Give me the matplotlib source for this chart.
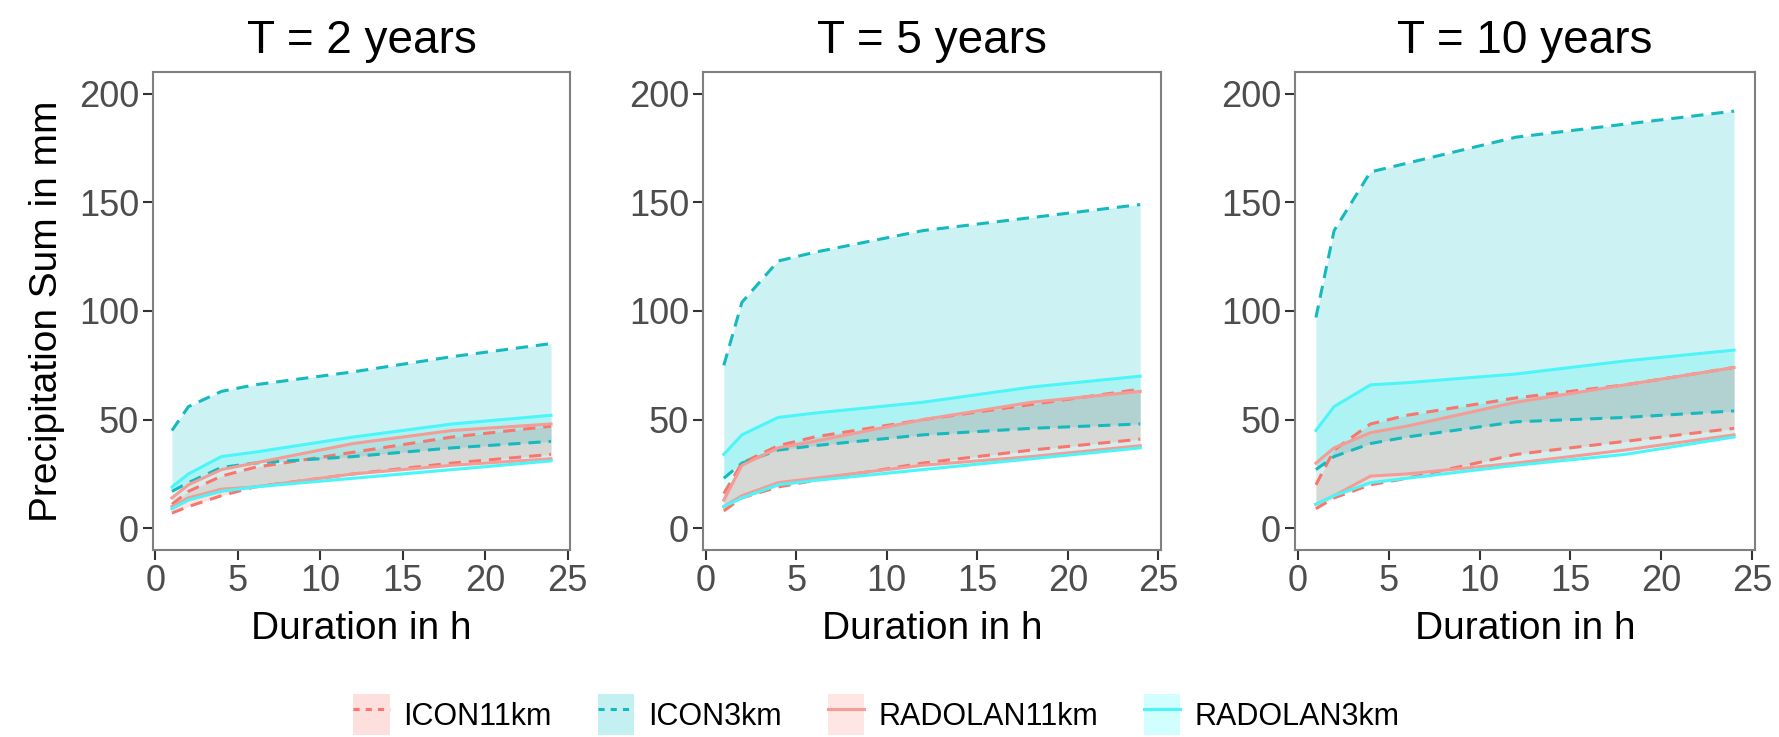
import numpy as np
import matplotlib
matplotlib.use('Agg')
import matplotlib.pyplot as plt
from matplotlib.patches import Patch
from matplotlib.lines import Line2D

plt.rcParams['font.family'] = ['Liberation Sans', 'DejaVu Sans']

durations = [1, 2, 4, 6, 12, 18, 24]
periods = ['T = 2 years', 'T = 5 years', 'T = 10 years']
sources = ['ICON11km', 'ICON3km', 'RADOLAN11km', 'RADOLAN3km']

# lower / upper bounds per return period and source
icon11_lo = [[7, 10, 15, 19, 25, 30, 34],
             [8, 14, 19, 22, 30, 36, 41],
             [9, 14, 20, 23, 34, 40, 46]]
icon11_hi = [[11, 17, 24, 28, 35, 42, 47],
             [16, 30, 38, 42, 50, 57, 64],
             [20, 36, 48, 52, 60, 66, 74]]
icon3_lo = [[17, 21, 28, 30, 33, 37, 40],
            [23, 30, 36, 38, 43, 46, 48],
            [27, 33, 39, 42, 49, 51, 54]]
icon3_hi = [[45, 56, 63, 66, 72, 79, 85],
            [75, 104, 123, 127, 137, 143, 149],
            [97, 137, 164, 168, 180, 186, 192]]
rad11_lo = [[10, 14, 18, 19, 25, 29, 32],
            [10, 15, 21, 23, 29, 33, 38],
            [11, 15, 24, 25, 30, 36, 43]]
rad11_hi = [[14, 20, 27, 30, 39, 45, 48],
            [13, 29, 37, 40, 50, 58, 63],
            [30, 37, 44, 47, 58, 66, 74]]
rad3_lo = [[9, 13, 17, 19, 23, 27, 31],
           [10, 14, 20, 22, 27, 32, 37],
           [11, 15, 21, 23, 29, 34, 42]]
rad3_hi = [[19, 25, 33, 35, 42, 48, 52],
           [34, 43, 51, 53, 58, 65, 70],
           [45, 56, 66, 67, 71, 77, 82]]

lows = [icon11_lo, icon3_lo, rad11_lo, rad3_lo]
highs = [icon11_hi, icon3_hi, rad11_hi, rad3_hi]
line_colors = ['#F8766D', '#16B9BE', '#F49C95', '#4CF5F8']
fill_colors = ['#F8766D', '#00BFC4', '#F8766D', '#00FFFF']
fill_alpha = [0.2, 0.2, 0.15, 0.15]
styles = ['dashed', 'dashed', 'solid', 'solid']

fig = plt.figure(figsize=(17.79, 7.37), dpi=100)
lefts = [153, 703, 1295]
widths = [417, 458, 460]
W, H = 1779, 737
bottom = 1 - 550 / H
height = (550 - 72) / H

for p in range(3):
    ax = fig.add_axes([lefts[p] / W, bottom, widths[p] / W, height])
    for s in range(4):
        ax.fill_between(durations, lows[s][p], highs[s][p],
                        color=fill_colors[s], alpha=fill_alpha[s], lw=0)
    for s in range(4):
        for yy in (lows[s][p], highs[s][p]):
            if styles[s] == 'dashed':
                ax.plot(durations, yy, color=line_colors[s], lw=2.2,
                        dashes=(4, 2.6))
            else:
                ax.plot(durations, yy, color=line_colors[s], lw=2.2)
    ax.set_xlim(-0.15, 25.15)
    ax.set_ylim(-10, 210)
    ax.set_xticks([0, 5, 10, 15, 20, 25])
    ax.set_yticks([0, 50, 100, 150, 200])
    ax.tick_params(labelsize=26, labelcolor='#4D4D4D', color='#333333',
                   length=7, width=1.5, pad=3)
    for sp in ax.spines.values():
        sp.set_color('#7F7F7F')
        sp.set_linewidth(1.5)
    ax.set_title(periods[p], fontsize=33, pad=14)
    ax.set_xlabel('Duration in h', fontsize=28, labelpad=9)
    if p == 0:
        ax.set_ylabel('Precipitation Sum in mm', fontsize=28, labelpad=10)

handles = []
for s in range(4):
    patch = Patch(facecolor=fill_colors[s], alpha=fill_alpha[s] + 0.03,
                  edgecolor='none')
    if styles[s] == 'dashed':
        ln = Line2D([], [], color=line_colors[s], lw=2.2, dashes=(2, 2))
    else:
        ln = Line2D([], [], color=line_colors[s], lw=2.2)
    handles.append((patch, ln))

fig.legend(handles, sources, loc='lower center', ncol=4, frameon=False,
           fontsize=22, bbox_to_anchor=(0.4925, -0.035), handlelength=1.2,
           handleheight=1.7, handletextpad=0.45, columnspacing=1.5)

fig.savefig('out.png', dpi=100)
